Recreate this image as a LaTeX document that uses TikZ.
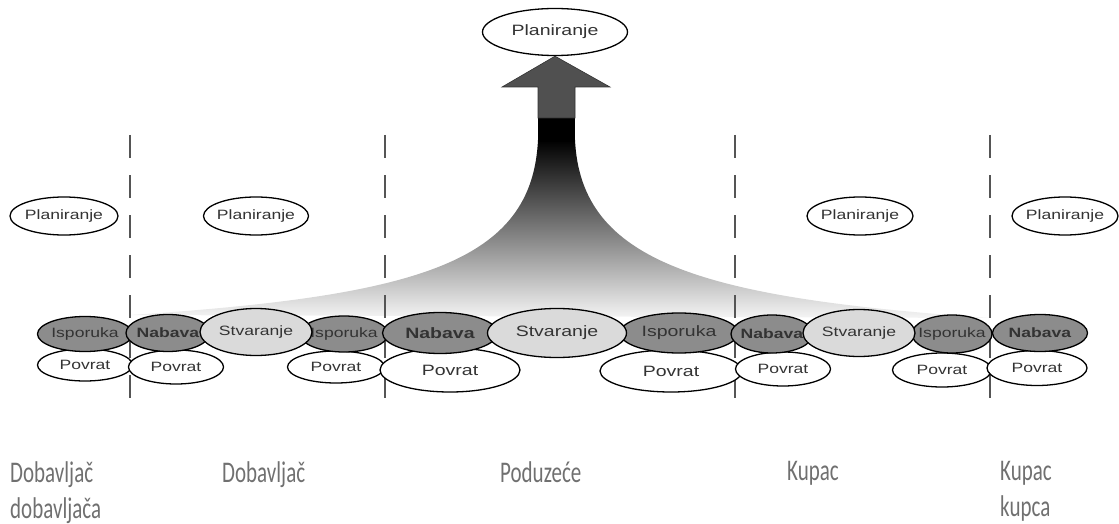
\documentclass[tikz,border=0pt]{standalone}
\usepackage{fontspec}
\newfontfamily\ovalfont{Liberation Sans}[FakeStretch=1.3]
\newfontfamily\rolefont{Carlito}[FakeStretch=0.7]
\usetikzlibrary{shapes.geometric}

\definecolor{darkOval}{HTML}{8C8C8C}
\definecolor{lightOval}{HTML}{DADADA}
\definecolor{ovalText}{HTML}{333333}
\definecolor{roleGray}{HTML}{707070}
\definecolor{borderGray}{HTML}{555555}
\definecolor{shaftGray}{HTML}{505050}

\begin{document}
\begin{tikzpicture}[
      x=1pt, y=-1pt,
      font=\ovalfont\fontsize{13.5}{15}\selectfont,
      wh/.style 2 args = {minimum width=#1pt, minimum height=#2pt},
      oval/.style      = {ellipse, draw=black, line width=1.3pt, inner sep=0pt},
      dark/.style      = {oval, fill=darkOval},
      light/.style     = {oval, fill=lightOval},
      back/.style      = {oval, fill=white},
      tag/.style       = {label={[text=ovalText]center:#1}},
      bigtag/.style    = {label={[text=ovalText,
        font=\ovalfont\fontsize{15}{17}\selectfont]center:#1}},
      border/.style    = {draw=borderGray, line width=2pt,
        dash pattern=on 23pt off 17pt},
      role/.style      = {anchor=north west, align=left, inner sep=0pt,
        text=roleGray, font=\rolefont\fontsize{30}{31}\selectfont}
    ]
    \useasboundingbox (0,0) rectangle (1119,524);

    % ---------------- planning on top ----------------
    \node[back, wh={145}{47}, bigtag=Planiranje] (planTop) at (555,32) {};

    % ---------------- funnel + arrow ----------------
    \shade[top color=black, middle color=gray!55, bottom color=gray!8]
    (538,140) .. controls (532,262) and (420,296) .. (130,315)
    -- (990,318) .. controls (700,298) and (581,262) .. (575,140) -- cycle;
    \fill[black] (538,118) rectangle (575,142);
    \fill[shaftGray, draw=black!80, line width=0.6pt]
    (538,118) -- (538,87) -- (502,87) -- (planTop.south) -- (610,87)
    -- (575,87) -- (575,118) -- cycle;

    % ---------------- borders between partners ----------------
    \foreach \bx in {130,385,735,990}
    \draw[border] (\bx,135) -- (\bx,400);

    % ---------------- local planning ----------------
    \node[back, wh={108}{38}, tag=Planiranje] (planA) at (64,216) {};
    \node[back, wh={105}{38}, tag=Planiranje] (planB) at (256,216) {};
    \node[back, wh={106}{38}, tag=Planiranje] (planC) at (860,216) {};
    \node[back, wh={106}{38}, tag=Planiranje] (planD) at (1065,216) {};

    % ---------------- return row ----------------
    \node[back, wh={95}{32}, tag=Povrat]     (povA) at (85,365) {};
    \node[back, wh={95}{34}, tag=Povrat]     (povB) at (176,367) {};
    \node[back, wh={97}{32}, tag=Povrat]     (povC) at (336,367) {};
    \node[back, wh={140}{44}, bigtag=Povrat] (povD) at (450,370) {};
    \node[back, wh={142}{42}, bigtag=Povrat] (povE) at (671,371) {};
    \node[back, wh={95}{34}, tag=Povrat]     (povF) at (783,369) {};
    \node[back, wh={99}{34}, tag=Povrat]     (povG) at (942,370) {};
    \node[back, wh={100}{35}, tag=Povrat]    (povH) at (1037,368) {};

    % ---------------- source / deliver ----------------
    \node[dark, wh={95}{35}, tag=Isporuka]  (ispA) at (85,334) {};
    \node[dark, wh={84}{37}, tag=\textbf{Nabava}] (nabA) at (168,333) {};
    \node[dark, wh={88}{36}, tag=Isporuka]  (ispB) at (344,334) {};
    \node[dark, wh={115}{41}, bigtag=\textbf{Nabava}] (nabB) at (440,333) {};
    \node[dark, wh={118}{40}, bigtag=Isporuka] (ispC) at (679,333) {};
    \node[dark, wh={82}{38}, tag=\textbf{Nabava}] (nabC) at (772,334) {};
    \node[dark, wh={80}{38}, tag=Isporuka]  (ispD) at (952,334) {};
    \node[dark, wh={95}{37}, tag=\textbf{Nabava}] (nabD) at (1040,333) {};

    % ---------------- make ----------------
    \node[light, wh={112}{47}, tag=Stvaranje]    (stvA) at (256,332) {};
    \node[light, wh={139}{49}, bigtag=Stvaranje] (stvB) at (557,333) {};
    \node[light, wh={112}{47}, tag=Stvaranje]    (stvC) at (859,333) {};

    % ---------------- partners ----------------
    \node[role] (supSup)  at (10,461)   {Dobavljač\\[5pt]dobavljača};
    \node[role] (sup)     at (222,461)  {Dobavljač};
    \node[role] (firm)    at (500,461)  {Poduzeće};
    \node[role] (cust)    at (787,461)  {Kupac};
    \node[role] (custCus) at (1000,461) {Kupac\\[5pt]kupca};

  \end{tikzpicture}
\end{document}
